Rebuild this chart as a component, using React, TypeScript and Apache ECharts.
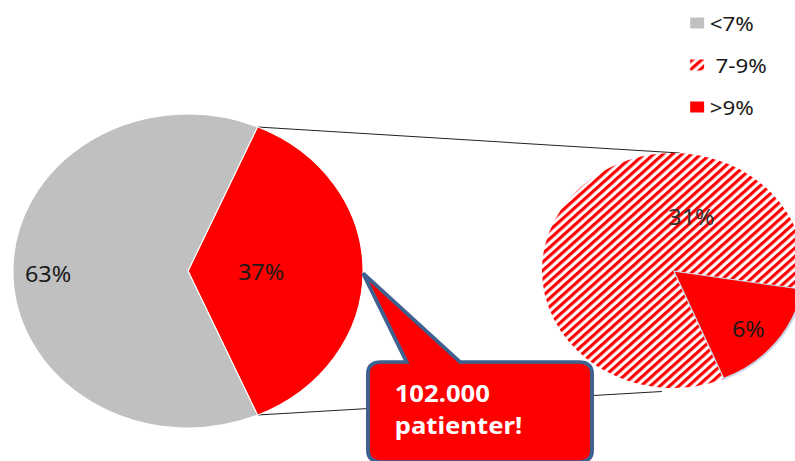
import React, { useEffect, useRef } from 'react';
import * as echarts from 'echarts';

// ---- data ----
const mainCategories = ['≥7%', '<7%'];
const mainValues = [37, 63];
const subCategories = ['>9%', '7-9%'];
const subValues = [6, 31];
const legendItems = ['<7%', '7-9%', '>9%'];
const calloutLines = ['102.000', 'patienter!'];

// ---- layout (drawn in an unstretched box, then stretched horizontally like the original slide) ----
const SX = 1.115;
const W = Math.round(795 / SX);
const H = 461;
const LC = [168.6, 271];
const LR = 157;
const RC = [603.6, 270.5];
const RR = 117.5;
const SUB_START = -9;

const RED = '#ff0000';
const GRAY = '#c0c0c0';
const FONT = '"Noto Sans", "Open Sans", sans-serif';

const CALL = { L: 330, R: 531, T: 362, B: 462, rad: 12, tipX: 325.6, tipY: 273.3, baseL: 364.7, baseR: 412.6 };
const calloutD = (() => {
  const { L, R, T, B, rad, tipX, tipY, baseL, baseR } = CALL;
  return `M ${L + rad} ${T} L ${baseL} ${T} L ${tipX} ${tipY} L ${baseR} ${T} L ${R - rad} ${T} Q ${R} ${T} ${R} ${T + rad} L ${R} ${B - rad} Q ${R} ${B} ${R - rad} ${B} L ${L + rad} ${B} Q ${L} ${B} ${L} ${B - rad} L ${L} ${T + rad} Q ${L} ${T} ${L + rad} ${T} Z`;
})();
echarts.graphic.registerShape('callout', echarts.graphic.extendPath(calloutD, {}));

// label nudges (dx, dy) away from the default mid-radius spot
const mainLabelShift = [[-16, 0.5], [-44, 2.5]];
const subLabelShift = [[19, 20], [65, -15]];

export default function App() {
  const ref = useRef<HTMLDivElement>(null);
  useEffect(() => {
    if (!ref.current) return;
    const chart = echarts.init(ref.current, undefined, { renderer: 'svg' });
    const total = mainValues.reduce((a, b) => a + b, 0);
    const half = (mainValues[0] / total) * 180;
    const hr = (half * Math.PI) / 180;
    const topL = [LC[0] + LR * Math.cos(hr), LC[1] - LR * Math.sin(hr)];
    const botL = [LC[0] + LR * Math.cos(hr), LC[1] + LR * Math.sin(hr)];
    const topR = [RC[0] + 6, RC[1] - RR];
    const botR = [RC[0] - 10, RC[1] + RR + 3.5];

    const mainColors = [RED, GRAY];

    const labelBase = { show: true, position: 'inside', formatter: '{c}%', fontSize: 21, fontFamily: FONT, color: '#1a1a1a' };

    chart.setOption({
      animation: false,
      legend: {
        data: legendItems,
        orient: 'vertical',
        left: 619,
        top: 13,
        padding: 0,
        itemGap: 22,
        itemWidth: 12.5,
        itemHeight: 11,
        icon: 'rect',
        selectedMode: false,
        itemStyle: { borderWidth: 0 },
        formatter: (n: string) => (n === '7-9%' ? ' ' + n : n),
        textStyle: { fontSize: 20, fontFamily: FONT, color: '#1a1a1a' },
      },
      graphic: [
        { type: 'line', z: 1, shape: { x1: topL[0], y1: topL[1], x2: topR[0], y2: topR[1] }, style: { stroke: '#222', lineWidth: 1 } },
        { type: 'line', z: 1, shape: { x1: botL[0], y1: botL[1], x2: botR[0], y2: botR[1] }, style: { stroke: '#222', lineWidth: 1 } },
        { type: 'callout', z: 50, x: 0, y: 0, style: { fill: RED, stroke: '#3f6190', lineWidth: 3.5 } },
        { type: 'text', z: 51, x: 354, y: 393.5, style: { text: calloutLines[0], fill: '#fff', fontSize: 23, fontWeight: 'bold', fontFamily: FONT, verticalAlign: 'middle' } },
        { type: 'text', z: 51, x: 354, y: 425.5, style: { text: calloutLines[1], fill: '#fff', fontSize: 23, fontWeight: 'bold', fontFamily: FONT, verticalAlign: 'middle' } },
      ],
      series: [
        {
          type: 'pie',
          silent: true,
          center: LC,
          radius: LR,
          startAngle: half,
          clockwise: true,
          avoidLabelOverlap: false,
          labelLine: { show: false },
          label: labelBase,
          labelLayout: (p: any) => ({ dx: mainLabelShift[p.dataIndex][0], dy: mainLabelShift[p.dataIndex][1] }),
          itemStyle: { borderColor: '#ffffff', borderWidth: 1 },
          data: mainCategories.map((name, i) => ({
            name,
            value: mainValues[i],
            itemStyle: { color: mainColors[i] },
          })),
        },
        {
          type: 'pie',
          silent: true,
          center: RC,
          radius: RR,
          startAngle: SUB_START,
          clockwise: true,
          avoidLabelOverlap: false,
          labelLine: { show: false },
          label: labelBase,
          labelLayout: (p: any) => ({ dx: subLabelShift[p.dataIndex][0], dy: subLabelShift[p.dataIndex][1] }),
          data: subCategories.map((name, i) => ({
            name,
            value: subValues[i],
            itemStyle:
              i === 0
                ? { color: RED, borderColor: '#c8d5e8', borderWidth: 2 }
                : {
                    color: '#ffffff',
                    borderWidth: 0,
                    decal: {
                      symbol: 'rect',
                      symbolSize: 1,
                      color: RED,
                      dashArrayX: [1, 0],
                      dashArrayY: [2.5, 2.2],
                      rotation: -Math.PI / 4,
                    },
                  },
            label: { color: i === 1 ? '#333' : '#1a1a1a' },
          })),
        },
      ],
    });
    return () => chart.dispose();
  }, []);

  return (
    <div
      ref={ref}
      style={{
        position: 'fixed',
        left: 0,
        top: 0,
        width: W,
        height: H,
        transform: `scaleX(${SX})`,
        transformOrigin: '0 0',
        background: '#fff',
      }}
    />
  );
}
